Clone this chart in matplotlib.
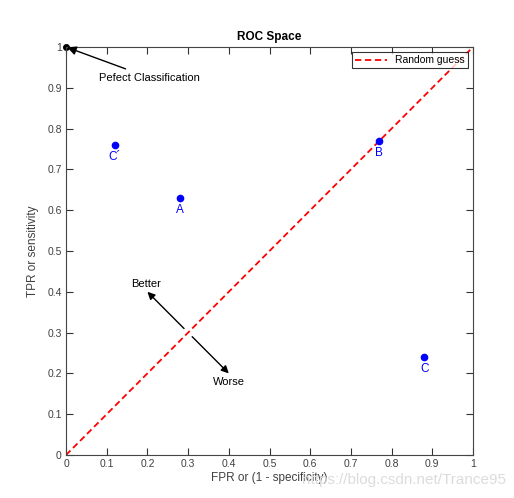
import matplotlib
matplotlib.use("Agg")
import matplotlib.pyplot as plt

plt.rcParams['font.family'] = ['Liberation Sans', 'DejaVu Sans']

point_names = ["C\u00b4", "A", "B", "C"]
fpr = [0.12, 0.28, 0.77, 0.88]
tpr = [0.76, 0.63, 0.77, 0.24]
perfect = (0.0, 1.0)
ticks = [0, 0.1, 0.2, 0.3, 0.4, 0.5, 0.6, 0.7, 0.8, 0.9, 1]
tick_labels = ["0", "0.1", "0.2", "0.3", "0.4", "0.5", "0.6", "0.7", "0.8", "0.9", "1"]

fig = plt.figure(figsize=(5.14, 4.98), dpi=100)
ax = fig.add_axes([66/514, 1-455/498, (473-66)/514, (455-47)/498])

ax.plot([0, 1], [0, 1], '--', color='red', lw=1.3, dashes=(3.5, 2), label='Random guess')
ax.plot(fpr, tpr, 'o', color='blue', ms=4.5, ls='none')
for n, x, y in zip(point_names, fpr, tpr):
    ax.text(x, y - 0.015, n, color='blue', ha='center', va='top', fontsize=8.5)

ax.plot([perfect[0]], [perfect[1]], 'o', color='black', ms=4, clip_on=False)
ax.annotate("Pefect Classification", xy=perfect, xytext=(0.081, 0.925),
            fontsize=8, ha='left', va='center',
            arrowprops=dict(arrowstyle='-|>', color='black', lw=1, mutation_scale=13,
                            shrinkA=2, shrinkB=1))
ax.annotate("", xy=(0.20, 0.40), xytext=(0.29, 0.31),
            arrowprops=dict(arrowstyle='-|>', color='black', lw=1, mutation_scale=11,
                            shrinkA=0, shrinkB=0))
ax.annotate("", xy=(0.40, 0.20), xytext=(0.31, 0.29),
            arrowprops=dict(arrowstyle='-|>', color='black', lw=1, mutation_scale=11,
                            shrinkA=0, shrinkB=0))
ax.text(0.197, 0.42, "Better", fontsize=8, ha='center', va='center')
ax.text(0.40, 0.18, "Worse", fontsize=8, ha='center', va='center')

ax.set_xlim(0, 1)
ax.set_ylim(0, 1)
ax.set_xticks(ticks)
ax.set_xticklabels(tick_labels)
ax.set_yticks(ticks)
ax.set_yticklabels(tick_labels)
ax.tick_params(direction='in', top=True, right=True, length=5, labelsize=7.5,
               colors='#333333', labelcolor='#404040', pad=3)
for s in ax.spines.values():
    s.set_color('#444444')
    s.set_linewidth(0.8)

ax.set_title("ROC Space", fontsize=8.5, fontweight='bold', pad=5)
ax.set_xlabel("FPR or (1 - specificity)", fontsize=8.5, color='#404040', labelpad=2)
ax.set_ylabel("TPR or sensitivity", fontsize=8.5, color='#404040', labelpad=6)

leg = ax.legend(loc='upper right', fontsize=7.5, frameon=True, fancybox=False,
                handlelength=3, borderaxespad=0.5, borderpad=0.3)
leg.get_frame().set_edgecolor('black')
leg.get_frame().set_linewidth(0.8)

fig.text(0.985, 0.022, "https://blog.csdn.net/Trance95", fontsize=11,
         color='#dcdcdc', ha='right', va='bottom', zorder=0)

fig.savefig("out.png", dpi=100, facecolor='white')
